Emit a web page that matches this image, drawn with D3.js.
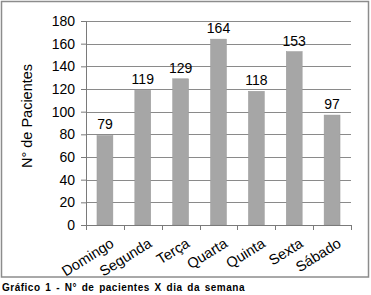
<!DOCTYPE html>
<html>
<head>
<meta charset="utf-8">
<script src="https://cdn.jsdelivr.net/npm/d3@7"></script>
<style>
  body { margin: 0; background: #fff; }
  text { font-family: "Liberation Sans", Arial, sans-serif; }
</style>
</head>
<body>
<div id="chart"></div>
<script>
const days = ["Domingo", "Segunda", "Terça", "Quarta", "Quinta", "Sexta", "Sábado"];
const patients = [79, 119, 129, 164, 118, 153, 97];
const yTicks = [0, 20, 40, 60, 80, 100, 120, 140, 160, 180];

const W = 371, H = 295;
const margin = { top: 21, right: 20, bottom: 70, left: 86 };
const width = 351 - margin.left;
const height = 225 - margin.top;

const svg = d3.select("#chart").append("svg")
  .attr("width", W)
  .attr("height", H);

// outer frame
svg.append("rect")
  .attr("x", 1.5).attr("y", 1.5)
  .attr("width", 367).attr("height", 275.5)
  .attr("fill", "none")
  .attr("stroke", "#8c8c8c")
  .attr("stroke-width", 1.5);

const g = svg.append("g")
  .attr("transform", `translate(${margin.left},${margin.top})`);

const x = d3.scaleBand()
  .domain(days)
  .range([0, width])
  .paddingInner(0.58)
  .paddingOuter(0.29);

const y = d3.scaleLinear()
  .domain([0, 180])
  .range([height, 0]);

// gridlines
g.selectAll(".grid")
  .data(yTicks.filter(d => d > 0))
  .enter().append("line")
  .attr("x1", 0).attr("x2", width)
  .attr("y1", d => Math.round(y(d)) + 0.5)
  .attr("y2", d => Math.round(y(d)) + 0.5)
  .attr("stroke", "#8a8a8a")
  .attr("stroke-width", 1);

// y axis
const yAxis = g.append("g")
  .call(d3.axisLeft(y).tickValues(yTicks).tickSize(5).tickPadding(6));
yAxis.select(".domain").attr("stroke", "#7a7a7a");
yAxis.selectAll(".tick line").attr("stroke", "#7a7a7a");
yAxis.selectAll("text")
  .style("font-size", "14px")
  .attr("fill", "#000");

// bars
g.selectAll(".bar")
  .data(patients)
  .enter().append("rect")
  .attr("class", "bar")
  .attr("x", (d, i) => x(days[i]))
  .attr("y", d => y(d))
  .attr("width", x.bandwidth())
  .attr("height", d => height - y(d))
  .attr("fill", "#a6a6a6")
  .attr("stroke", "#999")
  .attr("stroke-width", 0.5);

// value labels
g.selectAll(".val")
  .data(patients)
  .enter().append("text")
  .attr("x", (d, i) => x(days[i]) + x.bandwidth() / 2)
  .attr("y", d => y(d) - 6)
  .attr("text-anchor", "middle")
  .style("font-size", "14px")
  .text(d => d);

// x axis
const step = width / days.length;
const xAxis = g.append("g")
  .attr("transform", `translate(0,${height})`);
xAxis.append("line")
  .attr("x1", 0).attr("x2", width)
  .attr("y1", 0.5).attr("y2", 0.5)
  .attr("stroke", "#7a7a7a");
xAxis.selectAll(".xt")
  .data(d3.range(days.length + 1))
  .enter().append("line")
  .attr("x1", d => Math.round(d * step) + 0.5)
  .attr("x2", d => Math.round(d * step) + 0.5)
  .attr("y1", 0).attr("y2", 5)
  .attr("stroke", "#7a7a7a");
xAxis.selectAll(".xl")
  .data(days)
  .enter().append("text")
  .attr("transform", d => `translate(${x(d) + x.bandwidth() / 2 + 10},${21}) rotate(-32)`)
  .attr("text-anchor", "end")
  .style("font-size", "14.5px")
  .text(d => d);

// y title
svg.append("text")
  .attr("transform", `translate(32,116) rotate(-90)`)
  .attr("text-anchor", "middle")
  .style("font-size", "14.5px")
  .text("N° de Pacientes");

// caption
svg.append("text")
  .attr("x", 2).attr("y", 291)
  .style("font-size", "10px")
  .style("font-weight", "bold")
  .style("letter-spacing", "0.5px")
  .style("word-spacing", "1.5px")
  .text("Gráfico 1 - N° de pacientes X dia da semana");
</script>
</body>
</html>
